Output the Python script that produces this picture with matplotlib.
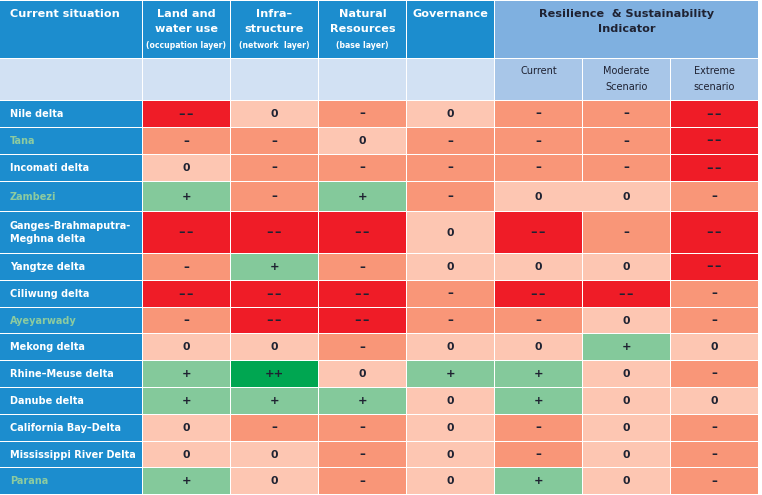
#!/usr/bin/env python3
"""Delta resilience scorecard, drawn as a table of coloured cells."""
import matplotlib
matplotlib.use('Agg')
import matplotlib.pyplot as plt
from matplotlib.patches import Rectangle

DELTAS = [
    'Nile delta', 'Tana', 'Incomati delta', 'Zambezi',
    'Ganges-Brahmaputra-\nMeghna delta', 'Yangtze delta', 'Ciliwung delta',
    'Ayeyarwady', 'Mekong delta', 'Rhine\u2013Meuse delta', 'Danube delta',
    'California Bay\u2013Delta', 'Mississippi River Delta', 'Parana',
]
GREEN_NAMES = ['Tana', 'Zambezi', 'Ayeyarwady', 'Parana']

LAND_USE = ['--', '-', '0', '+', '--', '-', '--', '-', '0', '+', '+', '0', '0', '+']
INFRA = ['0', '-', '-', '-', '--', '+', '--', '--', '0', '++', '+', '-', '0', '0']
NATURAL = ['-', '0', '-', '+', '--', '-', '--', '--', '-', '0', '+', '-', '-', '-']
GOVERNANCE = ['0', '-', '-', '-', '0', '0', '-', '-', '0', '+', '0', '0', '0', '0']
CURRENT = ['-', '-', '-', '0', '--', '0', '--', '-', '0', '+', '+', '-', '-', '+']
MODERATE = ['-', '-', '-', '0', '-', '0', '--', '0', '+', '0', '0', '0', '0', '0']
EXTREME = ['--', '--', '--', '-', '--', '--', '-', '-', '0', '-', '0', '-', '-', '-']
SCORES = [LAND_USE, INFRA, NATURAL, GOVERNANCE, CURRENT, MODERATE, EXTREME]

HEADERS = [['Land and', 'water use'], ['Infra\u2013', 'structure'], ['Natural', 'Resources'], ['Governance']]
LAYERS = ['(occupation layer)', '(network  layer)', '(base layer)', '']
INDICATOR_TITLE = ['Resilience  & Sustainability', 'Indicator']
SUBHEADERS = [['Current'], ['Moderate', 'Scenario'], ['Extreme', 'scenario']]

# cell edges in pixels: (first, past-last)
COLS = [(0, 143), (143, 231), (231, 319), (319, 407), (407, 495), (495, 583), (583, 671), (671, 759)]
ROWS = [(1, 59), (59, 101), (101, 128), (128, 155), (155, 182), (182, 212), (212, 254),
        (254, 281), (281, 308), (308, 334), (334, 361), (361, 388), (388, 415), (415, 442),
        (442, 468), (468, 495)]

BLUE = '#1c8dce'
PALE = '#d2e1f3'
INDICATOR = '#7fb0e0'
SUBHEAD = '#a8c6e8'
DARK_TEXT = '#1f2232'
NAME_GREEN = '#8ccba0'
SCORE_COLORS = {'--': '#ef1c27', '-': '#f99678', '0': '#fdc6b2', '+': '#84c99b', '++': '#00a651'}
SCORE_LABELS = {'--': '\u2013\u200a\u2013', '-': '\u2013', '0': '0', '+': '+', '++': '++'}
SCORE_SIZES = {'--': 9.4, '-': 8.6, '0': 7.8, '+': 8.2, '++': 8.2}


def cell(ax, x0, x1, y0, y1, color):
    # leave a 1px white gutter on the right and bottom
    ax.add_patch(Rectangle((x0, y0), x1 - x0 - 1, y1 - y0 - 1, facecolor=color,
                           edgecolor='none', linewidth=0))


def stacked(ax, x, y, lines, step, **style):
    for i, line in enumerate(lines):
        ax.text(x, y + i * step, line, ha='center', va='center', **style)


def main():
    fig = plt.figure(figsize=(7.62, 4.95), dpi=100, facecolor='white')
    ax = fig.add_axes([0, 0, 1, 1])
    ax.set_xlim(0, 762)
    ax.set_ylim(495, 0)
    ax.axis('off')

    # header row
    top, bottom = ROWS[0]
    cell(ax, *COLS[0], top, bottom, BLUE)
    ax.text(10, 14, 'Current situation', color='white', fontsize=8.1, fontweight='bold',
            ha='left', va='center')
    for i, (head, layer) in enumerate(zip(HEADERS, LAYERS)):
        x0, x1 = COLS[i + 1]
        cell(ax, x0, x1, top, bottom, BLUE)
        mid = (x0 + x1 - 1) / 2
        stacked(ax, mid, 14, head, 15, color='white', fontsize=8.1, fontweight='bold')
        if layer:
            ax.text(mid, 45.5, layer, color='white', fontsize=5.6, fontweight='bold',
                    ha='center', va='center')
    x0, x1 = COLS[5][0], COLS[7][1]
    cell(ax, x0, x1, top, bottom, INDICATOR)
    stacked(ax, (x0 + x1 - 1) / 2, 14, INDICATOR_TITLE, 15, color=DARK_TEXT,
            fontsize=8.1, fontweight='bold')

    # second header row
    top, bottom = ROWS[1]
    for x0, x1 in COLS[:5]:
        cell(ax, x0, x1, top, bottom, PALE)
    for (x0, x1), sub in zip(COLS[5:], SUBHEADERS):
        cell(ax, x0, x1, top, bottom, SUBHEAD)
        stacked(ax, (x0 + x1 - 1) / 2, 71.5, sub, 15, color=DARK_TEXT, fontsize=7)

    # delta rows
    for r, name in enumerate(DELTAS):
        y0, y1 = ROWS[r + 2]
        ymid = (y0 + y1 - 1) / 2
        cell(ax, *COLS[0], y0, y1, BLUE)
        ax.text(10, ymid, name, color=NAME_GREEN if name in GREEN_NAMES else 'white',
                fontsize=7, fontweight='bold', ha='left', va='center', linespacing=1.45)
        for c, column in enumerate(SCORES):
            x0, x1 = COLS[c + 1]
            score = column[r]
            # Zambezi's current and moderate cells run together with no gutter
            if name == 'Zambezi' and c == 4:
                x1 += 1
            cell(ax, x0, x1, y0, y1, SCORE_COLORS[score])
            ax.text((COLS[c + 1][0] + COLS[c + 1][1] - 1) / 2, ymid, SCORE_LABELS[score],
                    color=DARK_TEXT, fontsize=SCORE_SIZES[score], fontweight='bold',
                    ha='center', va='center')

    fig.savefig('out.png', dpi=100)


if __name__ == '__main__':
    main()
